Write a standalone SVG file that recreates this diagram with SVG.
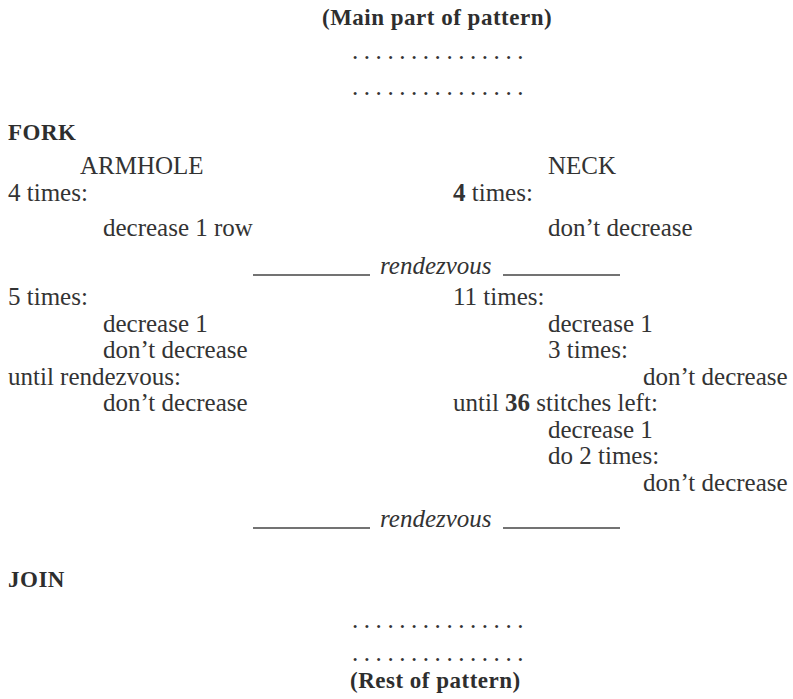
<svg xmlns="http://www.w3.org/2000/svg" width="793" height="699" viewBox="0 0 793 699">
<style>
text{font-family:"Liberation Serif","Times New Roman",serif;font-size:25px;fill:#333}
.b{font-weight:bold;font-size:23px;letter-spacing:0.5px;fill:#2e2e2e}
.bd{font-weight:bold}
.i{font-style:italic}
.dots{letter-spacing:5.55px}
.rule{stroke:#444;stroke-width:1.3}
</style>
<rect width="793" height="699" fill="#fff"/>
<g id="header">
<text class="b" x="322" y="25">(Main part of pattern)</text>
<text class="dots" x="352" y="59">...............</text>
<text class="dots" x="352" y="95">...............</text>
</g>
<g id="fork">
<text class="b" x="8" y="140">FORK</text>
</g>
<g id="armhole">
<text x="80" y="174">ARMHOLE</text>
<text x="8" y="201">4 times:</text>
<text x="103" y="236">decrease 1 row</text>
<text x="8" y="305">5 times:</text>
<text x="103" y="331.5">decrease 1</text>
<text x="103" y="358">don’t decrease</text>
<text x="8" y="384.5">until rendezvous:</text>
<text x="103" y="411">don’t decrease</text>
</g>
<g id="neck">
<text x="548" y="174">NECK</text>
<text x="453" y="201"><tspan class="bd">4</tspan> times:</text>
<text x="548" y="236">don’t decrease</text>
<text x="453" y="305">11 times:</text>
<text x="548" y="331.5">decrease 1</text>
<text x="548" y="358">3 times:</text>
<text x="643" y="384.5">don’t decrease</text>
<text x="453" y="411">until <tspan class="bd">36</tspan> stitches left:</text>
<text x="548" y="437.5">decrease 1</text>
<text x="548" y="464">do 2 times:</text>
<text x="643" y="490.5">don’t decrease</text>
</g>
<g id="rendezvous1">
<text class="i" x="380" y="274">rendezvous</text>
</g>
<g id="rendezvous2">
<text class="i" x="380" y="527">rendezvous</text>
</g>
<g id="join">
<text class="b" x="8" y="587">JOIN</text>
</g>
<g id="footer">
<text class="dots" x="352" y="627.5">...............</text>
<text class="dots" x="352" y="660.5">...............</text>
<text class="b" x="350" y="688">(Rest of pattern)</text>
</g>
<g id="connectors">
<line class="rule" x1="253" y1="275" x2="370" y2="275"/>
<line class="rule" x1="503" y1="275" x2="620" y2="275"/>
<line class="rule" x1="253" y1="528" x2="370" y2="528"/>
<line class="rule" x1="503" y1="528" x2="620" y2="528"/>
</g>
</svg>
